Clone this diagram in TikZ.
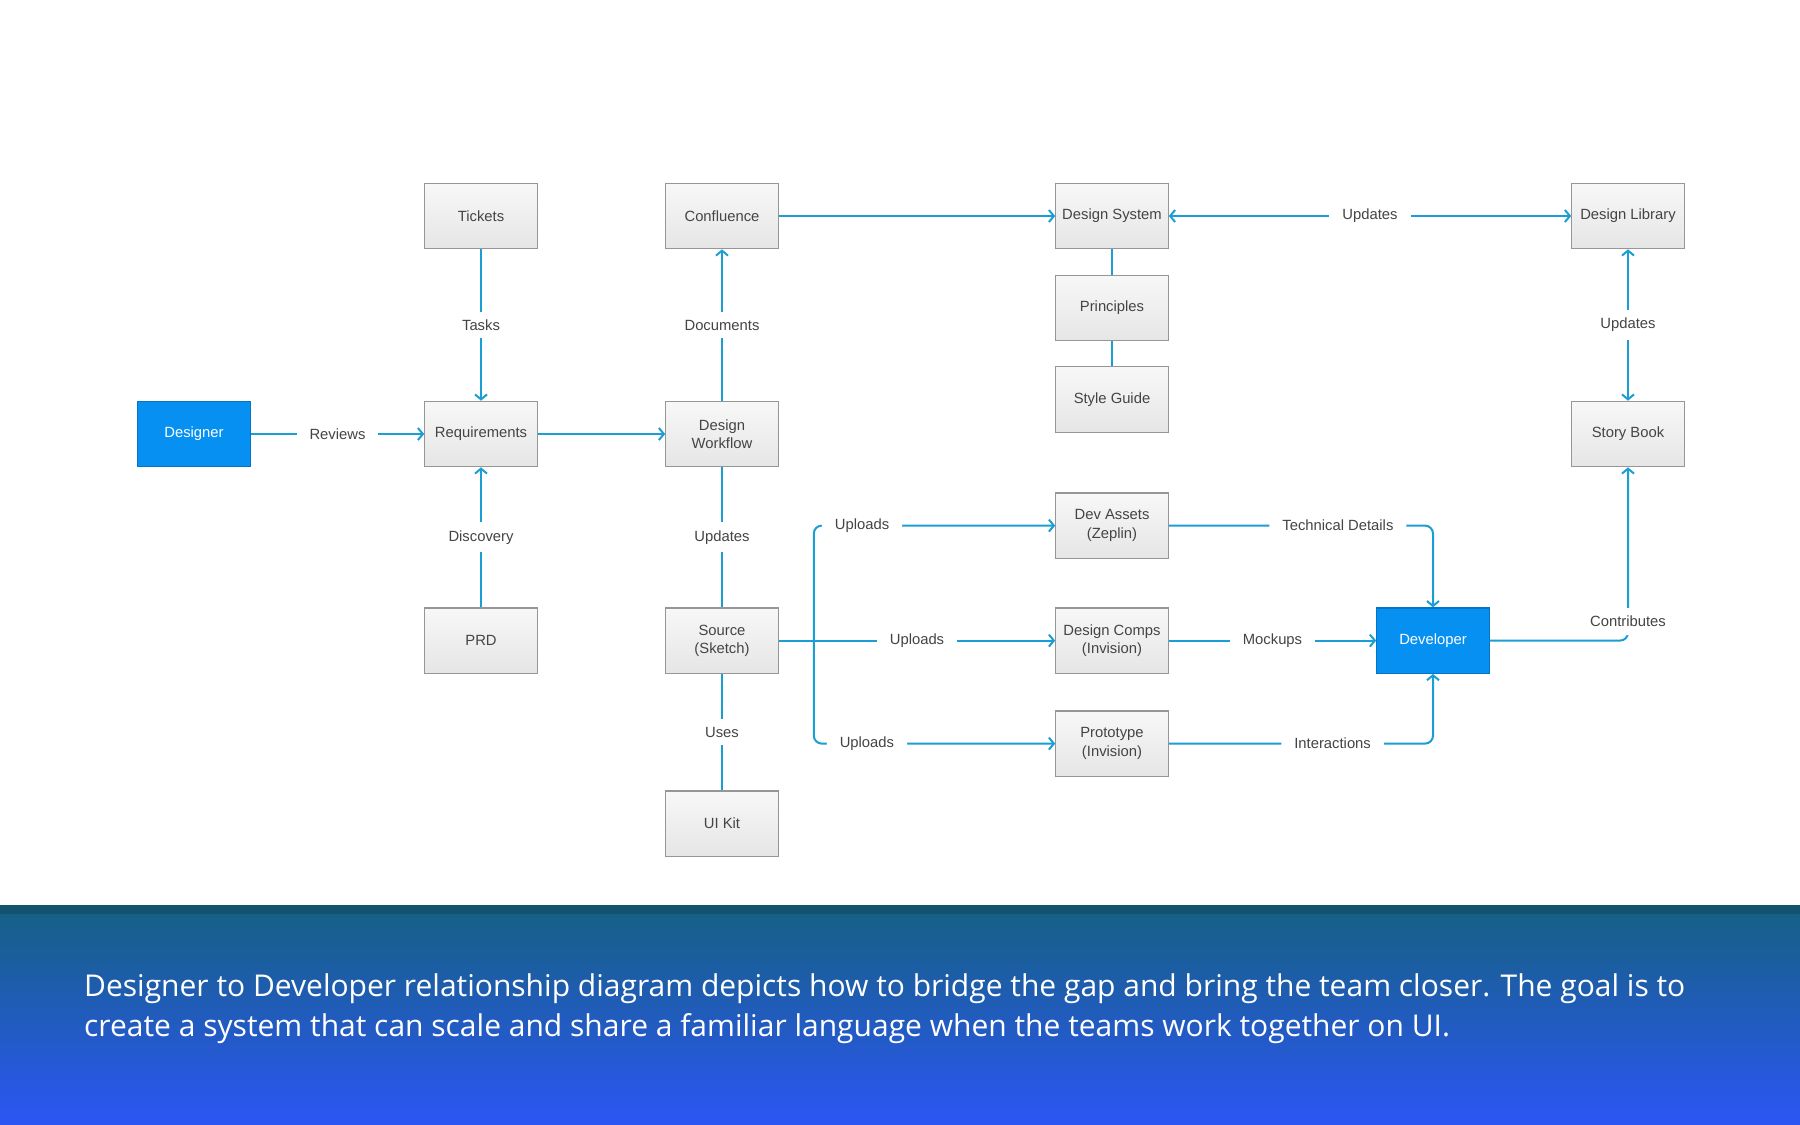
\documentclass[tikz,border=0pt]{standalone}
\usepackage{fontspec}
\usepackage{xcolor}
\usepackage{tikz}
\usetikzlibrary{arrows.meta, positioning}
\setmainfont{Liberation Sans}
\newfontfamily\capfont{Open Sans}
\definecolor{flow}{RGB}{27,158,212}
\definecolor{devblue}{RGB}{6,145,242}
\definecolor{boxline}{RGB}{150,150,150}
\definecolor{boxtext}{RGB}{68,68,68}
\definecolor{bandtop}{RGB}{21,97,130}
\definecolor{bandbot}{RGB}{44,86,245}

\begin{document}
\begin{tikzpicture}[
  box/.style={draw=boxline, line width=0.6pt, top color=gray!6, bottom color=gray!20,
              align=center, font=\fontsize{7.4}{9.2}\selectfont, text=boxtext, inner sep=2pt,
              minimum height=32.7pt, minimum width=56.2pt},
  role/.style={box, draw=devblue!80!black, top color=devblue, bottom color=devblue, text=white},
  lbl/.style={fill=white, font=\fontsize{7.4}{9.2}\selectfont, text=boxtext,
              inner xsep=6.5pt, inner ysep=4pt},
  link/.style={draw=flow, line width=1pt},
  arr/.style={link, -{Straight Barb[length=2.5pt,width=6pt]}},
  both/.style={link, {Straight Barb[length=2.5pt,width=6pt]}-{Straight Barb[length=2.5pt,width=6pt]}}]

  % page and caption band
  \useasboundingbox (0,0) rectangle (900pt,-562.5pt);
  \fill[white] (0,0) rectangle (900pt,-562.5pt);
  \fill[top color=bandtop, bottom color=bandbot] (0,-452.5pt) rectangle (900pt,-562.5pt);
  \fill[bandtop!85!black] (0,-452.5pt) rectangle (900pt,-457pt);
  \node[anchor=west, align=left, inner sep=0pt, text=white, font=\capfont\fontsize{15}{20}\selectfont] (cap)
    at (41.9pt,-504.2pt) {Designer to Developer relationship diagram depicts how to bridge the gap and bring the team closer. The goal is to\\create a system that can scale and share a familiar language when the teams work together on UI.};

  % designer side
  \node[role] (des) at (97pt,-217pt) {Designer};
  \node[box, right=86.7pt of des] (req) {Requirements};
  \node[box, above=75.7pt of req] (tick) {Tickets};
  \node[box, below=70pt of req] (prd) {PRD};
  \node[box, right=63.7pt of req] (wf) {Design\\Workflow};
  \node[box, above=75.7pt of wf] (conf) {Confluence};
  \node[box, below=70pt of wf] (src) {Source\\(Sketch)};
  \node[box, below=58.2pt of src] (ui) {UI Kit};

  % design system column
  \node[box, right=138.2pt of conf] (dsys) {Design System};
  \node[box, below=12.7pt of dsys] (princ) {Principles};
  \node[box, below=12.45pt of princ] (sg) {Style Guide};
  \node[box, right=138.2pt of src] (comps) {Design Comps\\(Invision)};
  \node[box, above=24.2pt of comps] (zep) {Dev Assets\\(Zeplin)};
  \node[box, below=18.2pt of comps] (proto) {Prototype\\(Invision)};

  % developer side
  \node[role, right=103.7pt of comps] (dev) {Developer};
  \node[box, right=201.2pt of dsys] (lib) {Design Library};
  \node[box, below=75.7pt of lib] (story) {Story Book};

  \coordinate[right=17.5pt of src.east] (fork);

  \draw[arr] (des)  -- node[lbl]{Reviews} (req);
  \draw[arr] (tick) -- node[lbl]{Tasks} (req);
  \draw[arr] (prd)  -- node[lbl]{Discovery} (req);
  \draw[arr] (req)  -- (wf);
  \draw[arr] (wf)   -- node[lbl]{Documents} (conf);
  \draw[link] (wf)  -- node[lbl]{Updates} (src);
  \draw[link] (src) -- node[lbl]{Uses} (ui);
  \draw[arr] (conf) -- (dsys);
  \draw[both] (dsys) -- node[lbl]{Updates} (lib);
  \draw[link] (dsys) -- (princ);
  \draw[link] (princ) -- (sg);
  \draw[both] (lib) -- node[lbl]{Updates} (story);

  % uploads from the source file
  \draw[arr] (src) -- node[lbl]{Uploads} (comps);
  \draw[arr, rounded corners=4pt] (fork) |- node[lbl, pos=0.6]{Uploads} (zep.west);
  \draw[arr, rounded corners=4pt] (fork) |- node[lbl, pos=0.61]{Uploads} (proto.west);

  % hand-off to the developer
  \draw[arr, rounded corners=4pt] (zep.east) -| node[lbl, pos=0.32]{Technical Details} (dev.north);
  \draw[arr] (comps) -- node[lbl]{Mockups} (dev);
  \draw[arr, rounded corners=4pt] (proto.east) -| node[lbl, pos=0.31]{Interactions} (dev.south);
  \draw[arr, rounded corners=4pt] (dev.east) -| node[lbl, pos=0.5, yshift=9.5pt]{Contributes} (story.south);
\end{tikzpicture}
\end{document}
